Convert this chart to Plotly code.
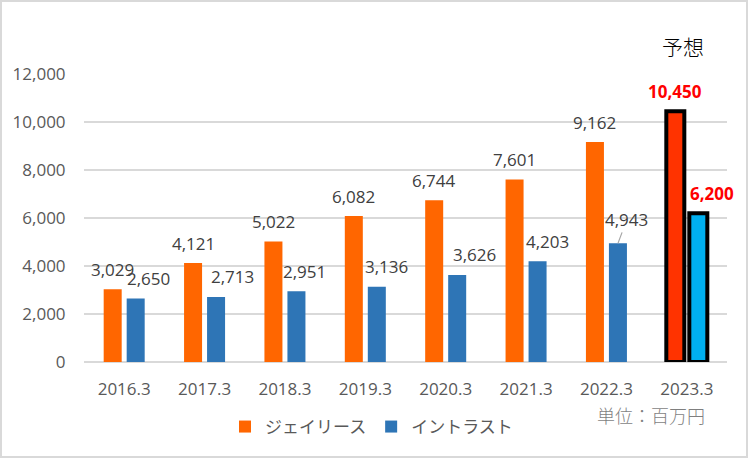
import plotly.graph_objects as go

# ---- data ----
categories = ["2016.3", "2017.3", "2018.3", "2019.3", "2020.3", "2021.3", "2022.3", "2023.3"]
jreece = [3029, 4121, 5022, 6082, 6744, 7601, 9162, 10450]
intrust = [2650, 2713, 2951, 3136, 3626, 4203, 4943, 6200]
series_names = ["ジェイリース", "イントラスト"]
forecast_label = "予想"
unit_label = "単位：百万円"

# ---- styles ----
ORANGE = "#FF6600"
BLUE = "#2E75B6"
RED = "#FF3300"
LBLUE = "#00B0F0"
FONT = "Open Sans, Noto Sans CJK JP, sans-serif"
JFONT = "Noto Sans CJK JP, sans-serif"

n = len(categories)
forecast = [c == "2023.3" for c in categories]

def colors(base, fc):
    return [fc if f else base for f in forecast]

line_w = [4 if f else 0 for f in forecast]

fig = go.Figure()
fig.add_trace(go.Bar(
    name=series_names[0], x=categories, y=jreece,
    marker=dict(color=colors(ORANGE, RED), line=dict(color="black", width=line_w)),
))
fig.add_trace(go.Bar(
    name=series_names[1], x=categories, y=intrust,
    marker=dict(color=colors(BLUE, LBLUE), line=dict(color="black", width=line_w)),
))

# data label horizontal tweaks (px), relative to bar centre
j_shift = [0, 0, 0, 0, 0, 0, 0, 0]
i_shift = [13, 16, 8, 10, 17, 10, 9, 14]
BAR_OFF = 11.5

annotations = []
for k, c in enumerate(categories):
    fc = forecast[k]
    fnt = dict(family=FONT, size=17, color="#FF0000" if fc else "#404040")
    if fc:
        fnt["weight"] = "bold"
    annotations.append(dict(
        x=k, y=jreece[k], text=f"{jreece[k]:,}", showarrow=False,
        xshift=-BAR_OFF + j_shift[k], yshift=20, font=fnt,
        xanchor="center", yanchor="middle",
    ))
    if c == "2022.3":
        annotations.append(dict(
            x=k, y=intrust[k], text=f"{intrust[k]:,}", showarrow=True,
            arrowhead=0, arrowwidth=1.2, arrowcolor="#A6A6A6",
            ax=9, ay=-24, standoff=0, xshift=BAR_OFF, font=fnt,
        ))
    else:
        annotations.append(dict(
            x=k, y=intrust[k], text=f"{intrust[k]:,}", showarrow=False,
            xshift=BAR_OFF + i_shift[k], yshift=20, font=fnt,
            xanchor="center", yanchor="middle",
        ))

# plot area geometry (px) for paper-coordinate text/border
L, R, T, B = 84, 23, 74, 97
W, H = 750, 459
pw, ph = W - L - R, H - T - B

def px_x(x):
    return (x - L) / pw

def px_y(y):
    return (H - B - y) / ph

annotations.append(dict(
    xref="paper", yref="paper", x=px_x(683), y=px_y(46), text=forecast_label,
    showarrow=False, font=dict(family=JFONT, size=21, color="#000000", weight=300),
    xanchor="center", yanchor="middle",
))
annotations.append(dict(
    xref="paper", yref="paper", x=px_x(651), y=px_y(415), text=unit_label,
    showarrow=False, font=dict(family=JFONT, size=18, color="#7F7F7F", weight=300),
    xanchor="center", yanchor="middle",
))

fig.update_layout(
    width=W, height=H,
    margin=dict(l=L, r=R, t=T, b=B),
    paper_bgcolor="white", plot_bgcolor="white",
    barmode="group", bargap=0.4277, bargroupgap=0.217,
    showlegend=True,
    legend=dict(
        orientation="h", x=px_x(225), y=px_y(427), xanchor="left", yanchor="middle",
        font=dict(family=JFONT, size=17, color="#595959"),
        itemclick=False, traceorder="normal",
    ),
    annotations=annotations,
    shapes=[dict(
        type="rect", xref="paper", yref="paper",
        x0=px_x(1), x1=px_x(747), y0=px_y(457), y1=px_y(1),
        line=dict(color="#D9D9D9", width=2), layer="below",
    )],
    xaxis=dict(
        type="category", range=[-0.5, n - 0.5], autorange=False,
        showgrid=False, zeroline=False, showline=False,
        ticks="outside", ticklen=12, tickcolor="rgba(0,0,0,0)",
        tickfont=dict(family=FONT, size=17, color="#595959"),
    ),
    yaxis=dict(
        range=[0, 12000], autorange=False, dtick=2000, tickformat=",d",
        showgrid=True, gridcolor="#D9D9D9", gridwidth=2,
        zeroline=True, zerolinecolor="#D9D9D9", zerolinewidth=2,
        showline=False, ticks="outside", ticklen=14, tickcolor="rgba(0,0,0,0)",
        tickfont=dict(family=FONT, size=17, color="#595959"),
    ),
)

fig.write_html("out.html", config={"displayModeBar": False},
               post_script="document.body.style.margin='0';")
